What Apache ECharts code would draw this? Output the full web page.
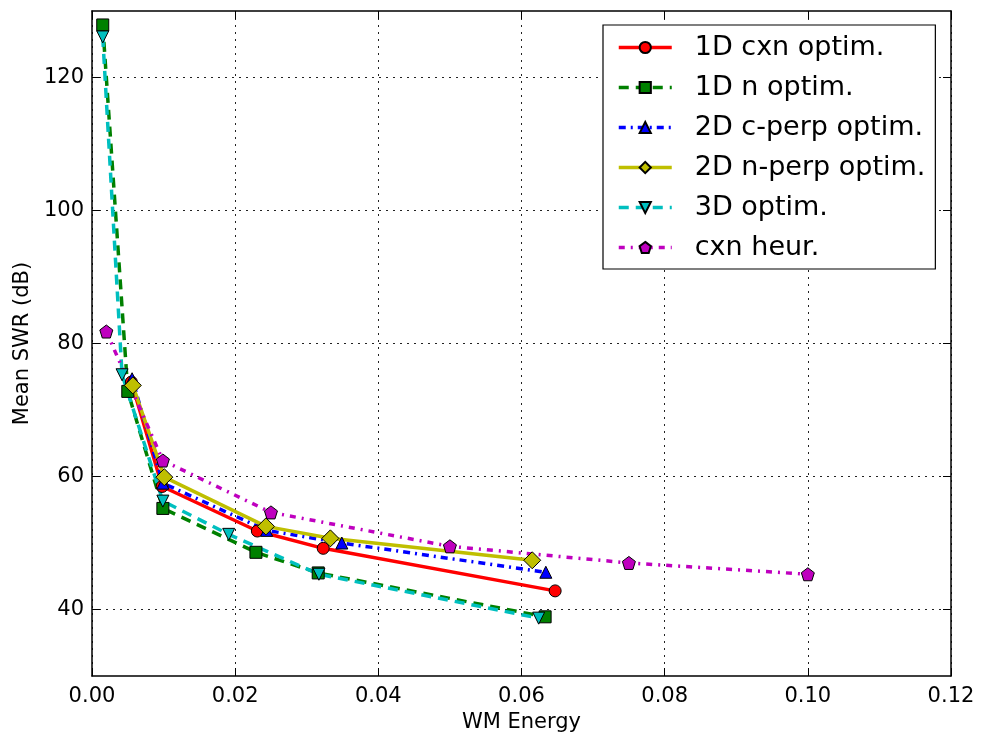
<!DOCTYPE html>
<html><head><meta charset="utf-8">
<script src="https://cdn.jsdelivr.net/npm/echarts@6/dist/echarts.min.js"></script>
<style>html,body{margin:0;padding:0;background:#fff}#c{width:984px;height:738px}</style>
</head><body><div id="c"></div>
<script>
const seriesNames = ['1D cxn optim.', '1D n optim.', '2D c-perp optim.', '2D n-perp optim.', '3D optim.', 'cxn heur.'];
const cxn1D = [[0.0055,74.2],[0.0098,58.5],[0.0231,51.8],[0.0323,49.2],[0.0647,42.8]];
const n1D = [[0.0015,127.9],[0.0050,72.8],[0.0099,55.2],[0.0229,48.6],[0.0316,45.5],[0.0633,38.9]];
const cperp2D = [[0.0056,74.7],[0.0099,59.0],[0.0244,51.9],[0.0349,50.0],[0.0634,45.6]];
const nperp2D = [[0.0057,73.7],[0.0101,59.9],[0.0243,52.5],[0.0333,50.7],[0.0615,47.4]];
const opt3D = [[0.0015,126.1],[0.0042,75.3],[0.0099,56.3],[0.0191,51.3],[0.0317,45.3],[0.0624,38.7]];
const heur = [[0.0020,81.8],[0.0099,62.4],[0.0250,54.6],[0.0500,49.5],[0.0750,47.0],[0.1000,45.3]];
const yTicks = [40, 60, 80, 100, 120];

const FONT = 'DejaVu Sans';
const pentagon = 'path://M0,-1 L0.951,-0.309 L0.588,0.809 L-0.588,0.809 L-0.951,-0.309 Z';
const grid = {type:[2,5], color:'#222', width:1};

function mk(name, data, color, lineType, symbol, size, rot) {
  return {
    name, type:'line', data, symbol, symbolSize:size, symbolRotate: rot||0,
    lineStyle:{color, width:3.5, type:lineType},
    itemStyle:{color, borderColor:'#000', borderWidth:1},
    emphasis:{disabled:true}, animation:false, z:2
  };
}

const chart = echarts.init(document.getElementById('c'), null, {renderer:'canvas'});
chart.setOption({
  animation:false,
  textStyle:{fontFamily:FONT},
  grid:{left:92, right:33, top:11, bottom:61, containLabel:false},
  xAxis:[{
    type:'value', min:0, max:0.12, interval:0.02,
    name:'WM Energy', nameLocation:'middle', nameGap:36,
    nameTextStyle:{fontFamily:FONT, fontSize:21, color:'#000'},
    axisLine:{show:true, lineStyle:{color:'#000', width:1.5}},
    axisTick:{show:true, inside:true, length:8, lineStyle:{color:'#000'}},
    axisLabel:{fontFamily:FONT, fontSize:21, color:'#000', margin:10, formatter:v=>v.toFixed(2)},
    splitLine:{show:true, lineStyle:grid}
  },{
    type:'value', position:'top', min:0, max:0.12, interval:0.02,
    axisLine:{show:true, onZero:false, lineStyle:{color:'#000', width:1.5}},
    axisTick:{show:true, inside:true, length:8, lineStyle:{color:'#000'}},
    axisLabel:{show:false}, splitLine:{show:false}
  }],
  yAxis:[{
    type:'value', min:30, max:130,
    name:'Mean SWR (dB)', nameLocation:'middle', nameGap:54,
    nameTextStyle:{fontFamily:FONT, fontSize:21, color:'#000'},
    axisLine:{show:true, lineStyle:{color:'#000', width:1.5}},
    axisTick:{show:true, inside:true, length:8, lineStyle:{color:'#000'}, customValues:yTicks},
    axisLabel:{fontFamily:FONT, fontSize:21, color:'#000', margin:8, customValues:yTicks},
    splitLine:{show:true, lineStyle:grid}
  },{
    type:'value', position:'right', min:30, max:130,
    axisLine:{show:true, onZero:false, lineStyle:{color:'#000', width:1.5}},
    axisTick:{show:true, inside:true, length:8, lineStyle:{color:'#000'}, customValues:yTicks},
    axisLabel:{show:false, customValues:yTicks}, splitLine:{show:false}
  }],
  legend:{
    orient:'vertical', left:603, top:25, width:335,
    backgroundColor:'#fff', borderColor:'#000', borderWidth:1.2,
    padding:[9, 10, 8, 14], itemGap:13, itemWidth:53, itemHeight:14,
    lineStyle:{width:3.5},
    textStyle:{fontFamily:FONT, fontSize:27, color:'#000', padding:[0,0,0,18]},
    data:seriesNames
  },
  series:[
    mk(seriesNames[0], cxn1D, '#ff0000', 'solid', 'circle', 12),
    mk(seriesNames[1], n1D, '#008000', [10,7], 'rect', 12),
    mk(seriesNames[2], cperp2D, '#0000ff', [7,5,2,5], 'triangle', 12),
    mk(seriesNames[3], nperp2D, '#bfbf00', 'solid', 'diamond', 17),
    mk(seriesNames[4], opt3D, '#00bfbf', [10,7], 'triangle', 12, 180),
    mk(seriesNames[5], heur, '#bf00bf', [6,6,2,6], pentagon, 13)
  ]
});
</script></body></html>
